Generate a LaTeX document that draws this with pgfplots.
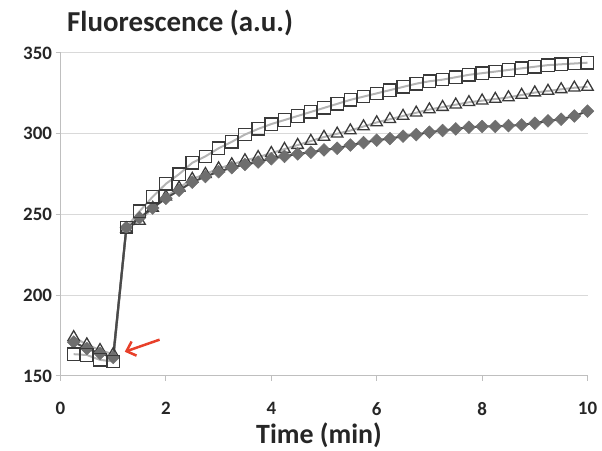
\documentclass[border=0pt]{standalone}
\usepackage{fontspec}
\setmainfont{Carlito}
\usepackage{pgfplots}
\usepackage{pgfplotstable}
\pgfplotsset{compat=1.18}
\usetikzlibrary{arrows.meta}

\definecolor{gridc}{HTML}{D9D9D9}
\definecolor{axc}{HTML}{BFBFBF}
\definecolor{mkc}{HTML}{3A3A3A}
\definecolor{lnc}{HTML}{B4B4B4}
\definecolor{dmfill}{HTML}{6E6E6E}
\definecolor{dmline}{HTML}{4A4A4A}
\definecolor{arrowred}{HTML}{E8402A}

\pgfplotstableread{
t sq tri dia
0.25 163.5 174 171
0.50 163 169.5 167
0.75 160 166 164
1.00 159 163.5 161.5
1.25 242 241 242
1.50 252 246 248
1.75 261 254 254
2.00 269 261 260
2.25 275 266.5 265
2.50 282 272 270
2.75 286 275 273.5
3.00 291 278.5 276.5
3.25 295 281 279
3.50 299.5 283.5 281
3.75 303 285.5 282.5
4.00 306 288 284.5
4.25 308.5 290.5 286
4.50 311 293 287.5
4.75 313.5 295.5 288.5
5.00 316 298 290
5.25 318.5 300 291
5.50 321 302 293
5.75 323 304.5 294.5
6.00 325 307 296
6.25 327 309 297
6.50 329 311 298.5
6.75 331 313 299.5
7.00 332.5 315 301
7.25 333.5 316.5 302
7.50 335 318 303
7.75 336.5 319.5 304
8.00 337.5 320.5 304.5
8.25 338.5 321.5 304.5
8.50 339.5 322.5 305
8.75 340.5 324 305.5
9.00 341.5 325.5 306.5
9.25 342.5 326.5 308
9.50 343 327.5 309
9.75 343.5 328.5 311
10.00 344 329 314
}\datatable

\begin{document}
\begin{tikzpicture}
\useasboundingbox (0,0) rectangle (602bp,451bp);
\begin{axis}[
  at={(60.5bp,75bp)}, anchor=south west,
  scale only axis, width=527bp, height=323bp,
  xmin=0, xmax=10, ymin=150, ymax=350,
  axis x line*=bottom, axis y line*=left,
  axis line style={axc, line width=1bp, -},
  xtick={0,2,...,10}, ytick={150,200,...,350},
  tick align=outside,
  major tick length=5bp,
  tick style={axc, line width=1bp},
  ymajorgrids, grid style={gridc, line width=1bp},
  /pgf/number format/assume math mode=true,
  tick label style={font=\bfseries\fontsize{19}{19}\selectfont, text=black!85},
  xticklabel style={yshift=-18bp},
  clip=false,
]
\draw[axc, line width=1bp] (axis cs:0,350) -- ++(0,15bp);
\addplot[lnc, line width=2bp, mark=triangle, mark size=6.6bp,
  mark options={draw=mkc, line width=1.3bp, solid}]
  table[x=t, y=tri] {\datatable};
\addplot[dmline, line width=2bp, mark=square*, mark size=4.5bp,
  mark options={rotate=45, fill=dmfill, draw=dmfill, line width=0.5bp}]
  table[x=t, y=dia] {\datatable};
\addplot[lnc, line width=2bp, mark=square, mark size=6.2bp,
  mark options={draw=mkc, line width=1.3bp, solid}]
  table[x=t, y=sq] {\datatable};
\addplot[dmline, line width=2.2bp, no marks] coordinates {(1.00,161.5) (1.25,242)};
\draw[arrowred, line width=2.5bp, -{Straight Barb[length=8bp, width=15bp]}]
  (axis cs:1.88,172.5) -- (axis cs:1.22,165.0);
\end{axis}
\node[anchor=base west, inner sep=0pt, font=\bfseries\fontsize{29}{29}\selectfont, text=black!85]
  at (67bp,419.5bp) {Fluorescence (a.u.)};
\node[anchor=base, inner sep=0pt, font=\bfseries\fontsize{28}{28}\selectfont, text=black!85]
  at (319bp,7.5bp) {Time (min)};
\end{tikzpicture}
\end{document}
